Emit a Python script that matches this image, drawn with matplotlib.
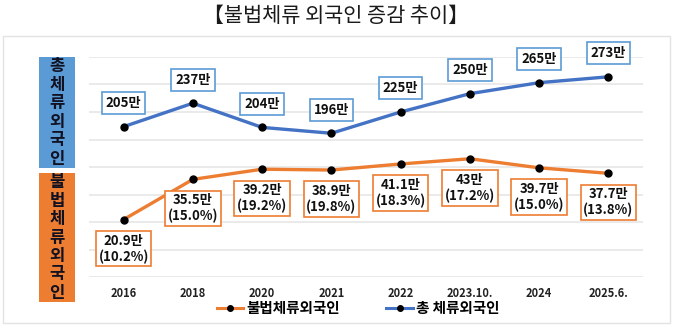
import matplotlib.pyplot as plt
from matplotlib.patches import Rectangle
from matplotlib.lines import Line2D

plt.rcParams['font.family'] = ['Noto Sans CJK KR', 'DejaVu Sans']

# 데이터
years = ['2016', '2018', '2020', '2021', '2022', '2023.10.', '2024', '2025.6.']
total = [205, 237, 204, 196, 225, 250, 265, 273]           # 총 체류외국인 (만)
illegal = [20.9, 35.5, 39.2, 38.9, 41.1, 43, 39.7, 37.7]     # 불법체류외국인 (만)
illegal_pct = [10.2, 15.0, 19.2, 19.8, 18.3, 17.2, 15.0, 13.8]

blue = '#4472C4'
blue_edge = '#5B9BD5'
orange = '#ED7D31'

fig = plt.figure(figsize=(7, 3.36), dpi=100)

# 바깥 테두리
fig.patches.append(Rectangle((3 / 700, 1 - 323 / 336), 667 / 700, 287 / 336,
                             transform=fig.transFigure, fill=False,
                             edgecolor='#e3e3e3', linewidth=1))

fig.text(336 / 700, 1 - 16 / 336, '【불법체류 외국인 증감 추이】',
         ha='center', va='center', fontsize=15, color='#1a1a1a')

ax = fig.add_axes([89 / 700, 59 / 336, 554 / 700, 220 / 336])
ax2 = ax.twinx()

x = list(range(len(years)))
ax.set_xlim(-0.5, len(years) - 0.5)
ax.set_ylim(0, 300)
ax2.set_ylim(0, 80)
ax.set_yticks([i * 37.5 for i in range(9)])
ax.grid(axis='y', color='#e6e6e6', linewidth=1.2)
ax.set_axisbelow(True)
ax.set_xticks(x)
ax.set_xticklabels(years, fontsize=8, fontweight='bold', color='#222222')
ax.tick_params(axis='x', length=0, pad=7)
ax.tick_params(axis='y', length=0, labelleft=False)
ax2.tick_params(axis='y', length=0, labelright=False)
for a in (ax, ax2):
    for s in a.spines.values():
        s.set_visible(False)

l1, = ax.plot(x, total, color=blue, linewidth=2.4, marker='o',
              markersize=5, markerfacecolor='black', markeredgecolor='black', zorder=3)
l2, = ax2.plot(x, illegal, color=orange, linewidth=2.4, marker='o',
               markersize=5, markerfacecolor='black', markeredgecolor='black', zorder=3)

for xi, v in zip(x, total):
    ax.annotate(f'{v}만', (xi, v), xytext=(0, 17), textcoords='offset points',
                ha='center', va='center', fontsize=9.5, fontweight='bold', color='#111111',
                bbox=dict(boxstyle='square,pad=0.3', fc='white', ec=blue_edge, lw=1.2))

for xi, v, p in zip(x, illegal, illegal_pct):
    ax2.annotate(f'{v:g}만\n({p:.1f}%)', (xi, v), xytext=(0, -21), textcoords='offset points',
                 ha='center', va='center', fontsize=9.5, fontweight='bold', color='#111111',
                 linespacing=1.15,
                 bbox=dict(boxstyle='square,pad=0.2', fc='white', ec=orange, lw=1.2))

# 왼쪽 세로 라벨 박스
def side_box(y_top, y_bot, text, color):
    fig.patches.append(Rectangle((39 / 700, 1 - y_bot / 336), 36 / 700, (y_bot - y_top) / 336,
                                 transform=fig.transFigure, facecolor=color, edgecolor='none'))
    step = (y_bot - y_top) / len(text)
    for i, ch in enumerate(text):
        fig.text(57 / 700, 1 - (y_top + step * (i + 0.5)) / 336, ch, ha='center', va='center',
                 fontsize=12, fontweight='bold', color='#111122')

side_box(57, 168, '총체류외국인', blue_edge)
side_box(173, 302, '불법체류외국인', orange)

handles = [Line2D([], [], color=orange, linewidth=2.2, marker='o', markersize=4,
                  markerfacecolor='black', markeredgecolor='black'),
           Line2D([], [], color=blue, linewidth=2.2, marker='o', markersize=4,
                  markerfacecolor='black', markeredgecolor='black')]
fig.legend(handles, ['불법체류외국인', '총 체류외국인'], loc='center',
           bbox_to_anchor=(358 / 700, 1 - 308 / 336), ncol=2, frameon=False,
           prop={'weight': 'bold', 'size': 10.5}, handlelength=1.8, handletextpad=0.2,
           columnspacing=3.2, borderpad=0)

fig.savefig('out.png', dpi=100)
